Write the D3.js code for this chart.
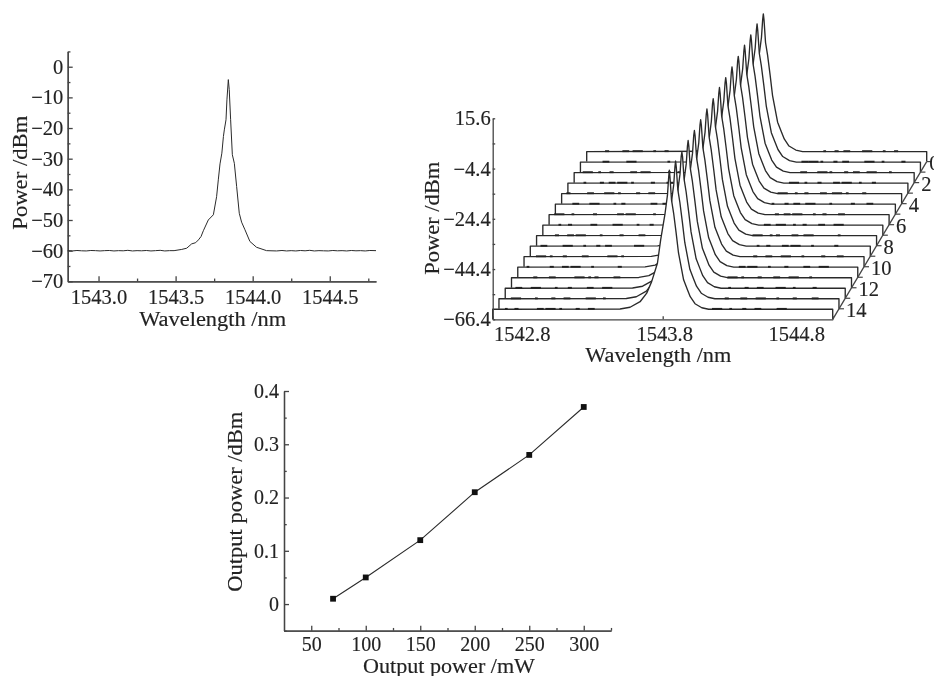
<!DOCTYPE html>
<html><head><meta charset="utf-8">
<script src="https://cdn.jsdelivr.net/npm/d3@7/dist/d3.min.js"></script>
<style>
html,body{margin:0;padding:0;background:#fff;overflow:hidden}
svg{display:block;filter:blur(0.35px)}
text{font-family:"Liberation Serif",serif;fill:#222;stroke:#222;stroke-width:0.15px}
</style></head><body>
<svg id="c" width="934" height="676"></svg>
<script>
// Panel A: single spectrum
const specWl=[1542.8,1542.83,1542.86,1542.89,1542.92,1542.95,1542.98,1543.01,1543.04,1543.07,1543.1,1543.13,1543.16,1543.19,1543.22,1543.25,1543.28,1543.31,1543.34,1543.37,1543.4,1543.43,1543.46,1543.49,1543.54,1543.572,1543.604,1543.63,1543.648,1543.665,1543.68,1543.712,1543.745,1543.766,1543.777,1543.788,1543.8,1543.81,1543.816,1543.827,1543.833,1543.842,1543.848,1543.857,1543.868,1543.881,1543.896,1543.913,1543.928,1543.95,1543.982,1544.025,1544.09,1544.155,1544.19,1544.22,1544.25,1544.28,1544.31,1544.34,1544.37,1544.4,1544.43,1544.46,1544.49,1544.52,1544.55,1544.58,1544.61,1544.64,1544.67,1544.7,1544.73,1544.76,1544.8];
const specDb=[-60,-60.1,-59.95,-60.05,-60.1,-59.95,-60,-60.1,-60,-59.95,-60.1,-60,-60.05,-59.9,-60.1,-60,-60.05,-59.95,-60.1,-60,-59.9,-60.1,-60,-60,-59.6,-59.2,-57.8,-57.4,-56.5,-55.4,-53.5,-50,-48.3,-42.4,-36.9,-31.7,-28.2,-22.8,-20.6,-17.3,-10.8,-4.2,-7.5,-17.3,-28.7,-31.5,-39.1,-47.8,-50.7,-53.2,-57,-58.9,-60,-60.1,-59.95,-60.1,-60,-60.1,-59.95,-60.05,-59.9,-60.1,-60,-60.05,-60.1,-59.95,-60.05,-60,-60.1,-59.95,-60.05,-60,-60.1,-59.95,-60];
const specXTicks=[1543.0,1543.5,1544.0,1544.5];
const specXMinor=[1543.25,1543.75,1544.25,1544.75];
const specYTicks=[0,-10,-20,-30,-40,-50,-60,-70];
const specYMinor=[5,-5,-15,-25,-35,-45,-55,-65];

// Panel B: waterfall of repeated scans
const scanWl=[1542.8,1543.549,1543.608,1543.667,1543.706,1543.735,1543.769,1543.788,1543.814,1543.828,1543.835,1543.839,1543.843,1543.852,1543.864,1543.879,1543.893,1543.923,1543.945,1543.962,1543.99,1544.03,1544.07,1544.8];
const scanDb=[-60.4,-60.3,-59.6,-57.4,-54,-49.4,-42.1,-32.8,-22.2,-15,-8,-5,-8,-17,-22,-30,-38,-48.7,-52.5,-55.4,-58.2,-59.8,-60.4,-60.4];
const scanPeak=[-5.6,-5.4,-5.6,-5.5,-5.8,-5.8,-5.9,-5.6,-5.9,-5.8,-5.9,-6,-5.8,-6.2,-5.6,-5];
const scanIds=d3.range(16);
const scanSpecks=[
 [1542.92,1543.03,1543.1,1543.2,1543.27,1543.44,1543.5,1544.2,1544.27,1544.33,1544.45,1544.55,1544.62],
 [1542.95,1543.1,1543.32,1543.47,1544.12,1544.17,1544.22,1544.3,1544.36,1544.5,1544.58,1544.7],
 [1542.88,1542.95,1543.02,1543.15,1543.22,1543.36,1543.42,1544.15,1544.26,1544.31,1544.4,1544.46,1544.55,1544.66],
 [1542.9,1543,1543.06,1543.12,1543.18,1543.3,1543.4,1544.13,1544.2,1544.28,1544.38,1544.44,1544.52,1544.6],
 [1542.84,1542.97,1543.08,1543.14,1543.25,1543.33,1544.1,1544.18,1544.24,1544.34,1544.42,1544.48,1544.58],
 [1542.92,1543.03,1543.15,1543.2,1543.38,1543.46,1544.08,1544.16,1544.22,1544.3,1544.42,1544.55,1544.65],
 [1542.86,1542.94,1543.07,1543.22,1543.28,1543.42,1544.14,1544.2,1544.26,1544.36,1544.42,1544.52],
 [1542.9,1542.96,1543.1,1543.24,1543.36,1543.44,1544.12,1544.2,1544.28,1544.34,1544.44,1544.54],
 [1542.92,1543,1543.06,1543.18,1543.3,1543.42,1544.1,1544.18,1544.22,1544.32,1544.4,1544.58],
 [1542.88,1543.02,1543.12,1543.2,1543.26,1543.44,1544.14,1544.2,1544.3,1544.36,1544.46,1544.6],
 [1542.9,1542.96,1543.04,1543.16,1543.32,1543.38,1544.16,1544.24,1544.34,1544.44,1544.56,1544.66],
 [1542.86,1543,1543.08,1543.14,1543.24,1543.4,1544.12,1544.18,1544.28,1544.38,1544.5,1544.6],
 [1542.94,1543.04,1543.2,1543.26,1543.3,1543.42,1544.1,1544.16,1544.26,1544.36,1544.46,1544.56],
 [1542.88,1542.98,1543.1,1543.18,1543.3,1543.4,1544.12,1544.22,1544.3,1544.42,1544.5,1544.62],
 [1542.9,1543.02,1543.12,1543.2,1543.34,1543.42,1544.14,1544.24,1544.34,1544.44,1544.54,1544.66],
 [1542.88,1542.94,1543.08,1543.14,1543.2,1543.3,1543.38,1544.12,1544.2,1544.28,1544.36,1544.5]
];
const wfXTicks=[1542.8,1543.8,1544.8];
const wfXLabels=["1542.8","1543.8","1544.8"];
const wfYTicks=[15.6,5.6,-4.4,-14.4,-24.4,-34.4,-44.4,-54.4,-64.4];
const wfYLabels=["15.6","","\u22124.4","","\u221224.4","","\u221244.4","","\u221266.4"];
const wfDepthLabels=[0,2,4,6,8,10,12,14];

// Panel C: output power
const pumpMw=[70,100,150,200,250,300];
const outDbm=[0.01,0.05,0.12,0.21,0.28,0.37];
const outXTicks=[50,100,150,200,250,300];
const outXMinor=[75,125,175,225,275,325];
const outYTicks=[0,0.1,0.2,0.3,0.4];
const outYMinor=[-0.05,0.05,0.15,0.25,0.35];

const INK="#2a2a2a", AX="#444", FS=20.5;
const svg=d3.select("#c");
const minus=s=>String(s).replace("-","\u2212");

function styleAxis(g){
  g.selectAll("path.domain,line").attr("stroke",AX).attr("stroke-width",1.3);
  g.selectAll("text").attr("fill","#222").style("font-family",'"Liberation Serif",serif');
}
function axes(root,x,y,o){
  const y0=y.range()[0], x0=x.range()[0];
  const xa=root.append("g").attr("transform",`translate(0,${y0})`)
    .call(d3.axisBottom(x).tickValues(o.xt).tickSizeInner(-o.xLen).tickSizeOuter(0).tickPadding(o.xPad).tickFormat(o.xf));
  const ya=root.append("g").attr("transform",`translate(${x0},0)`)
    .call(d3.axisLeft(y).tickValues(o.yt).tickSizeInner(-o.yLen).tickSizeOuter(0).tickPadding(o.yPad).tickFormat(o.yf));
  xa.selectAll("text").attr("font-size",o.fs); ya.selectAll("text").attr("font-size",o.fs);
  styleAxis(xa); styleAxis(ya);
  if(o.xm){const m=root.append("g").attr("transform",`translate(0,${y0})`).call(d3.axisBottom(x).tickValues(o.xm).tickSizeInner(-o.xLen*0.55).tickSizeOuter(0).tickFormat(""));styleAxis(m);}
  if(o.ym){const m=root.append("g").attr("transform",`translate(${x0},0)`).call(d3.axisLeft(y).tickValues(o.ym).tickSizeInner(-o.yLen*0.55).tickSizeOuter(0).tickFormat(""));styleAxis(m);}
  return {xa,ya};
}
function title(t,x,y,fs,rot,len){
  const e=svg.append("text").text(t).attr("font-size",fs).attr("text-anchor","middle").attr("dominant-baseline","central");
  if(rot) e.attr("transform",`translate(${x},${y}) rotate(-90)`); else e.attr("x",x).attr("y",y);
  if(len) e.attr("textLength",len).attr("lengthAdjust","spacingAndGlyphs");
}

// ---------- Panel A
{
  const x=d3.scaleLinear().domain([1542.8,1544.8]).range([67.7,376]);
  const y=d3.scaleLinear().domain([-70,5]).range([281.3,51.4]);
  const g=svg.append("g");
  axes(g,x,y,{xt:specXTicks,xm:specXMinor,yt:specYTicks,ym:specYMinor,xLen:5,yLen:5,xPad:8,yPad:4.5,fs:FS,xf:d3.format(".1f"),yf:minus});
  g.append("path").attr("fill","none").attr("stroke",INK).attr("stroke-width",1)
   .attr("d",d3.line().x((d,i)=>x(specWl[i])).y(d=>y(d))(specDb));
  title("Wavelength /nm",212.7,319,FS,false,147);
  title("Power /dBm",20,172.7,FS,true,114);
}

// ---------- Panel B
{
  const x=d3.scaleLinear().domain([1542.8,1544.8]).range([492.7,832.7]);
  const y=d3.scaleLinear().domain([-64.4,15.6]).range([319.3,118.3]);
  const depthX=d3.scaleLinear().domain([0,15]).range([94,0]);
  const depthY=d3.scaleLinear().domain([0,15]).range([157.7,0]);
  const g=svg.append("g");
  const line=d3.line().x(d=>d[0]).y(d=>d[1]);
  const dashHalf=[0.012,0.02,0.03,0.008];
  scanIds.forEach(i=>{
    const dx=depthX(i), dy=depthY(i);
    const peakIdx=scanDb.indexOf(d3.max(scanDb));
    const pts=scanWl.map((w,k)=>[w,k===peakIdx?scanPeak[i]:scanDb[k]]);
    const poly=[[x(1542.8)+dx,y(-64.4)-dy],...pts.map(p=>[x(p[0])+dx,y(p[1])-dy]),[x(1544.8)+dx,y(-64.4)-dy]];
    g.append("path").attr("d",line(poly)).attr("fill","#fff").attr("stroke",INK).attr("stroke-width",1.35).attr("stroke-linejoin","round");
    // noisy stretches of the baseline read as short heavy dashes
    scanSpecks[i].forEach((w,k)=>{
      const h=dashHalf[(k+i)%4];
      g.append("line").attr("x1",x(w-h)+dx).attr("x2",x(w+h)+dx)
       .attr("y1",y(-60.25)-dy).attr("y2",y(-60.25)-dy).attr("stroke","#222").attr("stroke-width",1.9);
    });
  });
  const {xa}=axes(g,x,y,{xt:wfXTicks,yt:wfYTicks,xLen:3,yLen:2.5,xPad:7,yPad:2,fs:FS,
    xf:(d,i)=>wfXLabels[i],yf:(d,i)=>wfYLabels[i]});
  xa.selectAll(".tick text").attr("dx",(d,i)=>[29,1.5,-36.5][i]);
  // depth axis
  const dLine=d3.line().x(d=>x(1544.8)+depthX(d)).y(d=>y(-64.4)-depthY(d));
  g.append("path").attr("d",dLine([0,15])).attr("stroke",AX).attr("stroke-width",1.3).attr("fill","none");
  scanIds.slice(0,15).forEach(i=>{
    const px=x(1544.8)+depthX(i), py=y(-64.4)-depthY(i);
    g.append("line").attr("x1",px).attr("x2",px+5).attr("y1",py).attr("y2",py).attr("stroke",AX).attr("stroke-width",1.2);
  });
  wfDepthLabels.forEach(v=>{
    g.append("text").text(v).attr("x",x(1544.8)+depthX(v)+(v===0?2.5:7)).attr("y",y(-64.4)-depthY(v)+1)
     .attr("font-size",FS).attr("dominant-baseline","central");
  });
  title("Wavelength /nm",658.3,355,FS,false,146);
  title("Power /dBm",431.7,218.3,FS,true,113);
}

// ---------- Panel C
{
  const x=d3.scaleLinear().domain([25,325]).range([284,611]);
  const y=d3.scaleLinear().domain([-0.05,0.4]).range([630.7,391]);
  const g=svg.append("g");
  axes(g,x,y,{xt:outXTicks,xm:outXMinor,yt:outYTicks,ym:outYMinor,xLen:5,yLen:5,xPad:6,yPad:5,fs:20,xf:d3.format("d"),yf:d=>d===0?"0":d3.format(".1f")(d)});
  g.append("path").attr("fill","none").attr("stroke",INK).attr("stroke-width",1.1)
   .attr("d",d3.line().x((d,i)=>x(pumpMw[i])).y(d=>y(d))(outDbm));
  g.selectAll("rect.pt").data(outDbm).join("rect").attr("class","pt")
   .attr("x",(d,i)=>x(pumpMw[i])-2.9).attr("y",d=>y(d)-2.9).attr("width",5.8).attr("height",5.8).attr("fill","#111");
  title("Output power /mW",449,665.5,20,false,172);
  title("Output power /dBm",235,501.7,20,true,180);
}
</script>
</body></html>
